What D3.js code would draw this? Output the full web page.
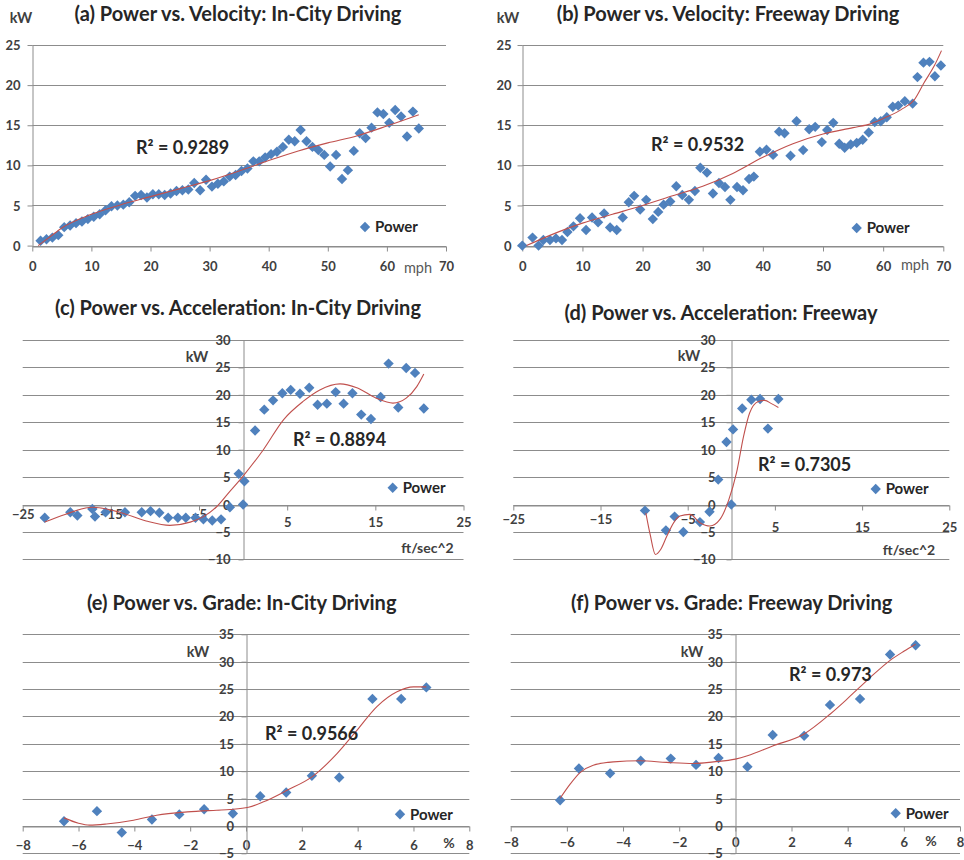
<!DOCTYPE html>
<html><head><meta charset="utf-8">
<script src="https://cdn.jsdelivr.net/npm/d3@7/dist/d3.min.js"></script>
<style>
body{margin:0;background:#fff}
svg{display:block}
text{font-family:Lato,"Open Sans",sans-serif}
</style>
</head><body>
<svg id="chart" width="964" height="860"></svg>
<script>
// ---------- DATA ----------
// (a) Power vs Velocity, In-City
const velCityMph = [1.4,2.4,3.4,4.4,5.4,6.4,7.4,8.4,9.4,10.4,11.4,12.4,13.4,14.4,15.4,16.4,17.4,18.4,19.4,20.4,21.4,22.4,23.4,24.4,25.4,26.4,27.4,28.4,29.4,30.4,31.4,32.4,33.4,34.4,35.4,36.4,37.4,38.4,39.4,40.4,41.4,42.4,43.4,44.4,45.4,46.4,47.4,48.4,49.4,50.4,51.4,52.4,53.4,54.4,55.4,56.4,57.4,58.4,59.4,60.4,61.4,62.4,63.4,64.4,65.4];
const velCityKW = [0.6,0.8,1.0,1.3,2.3,2.5,2.8,3.0,3.3,3.6,3.9,4.4,4.9,5.0,5.1,5.4,6.2,6.3,6.0,6.4,6.4,6.3,6.5,6.8,6.9,7.0,7.8,6.9,8.2,7.35,7.7,8.0,8.6,8.8,9.3,9.6,10.5,10.5,11.0,11.4,11.7,12.3,13.2,13.0,14.4,13.0,12.3,11.9,11.3,9.85,11.3,8.3,9.4,11.8,14.0,13.4,14.7,16.6,16.4,15.3,16.9,16.1,13.6,16.7,14.6];
const velCityTrendMph = [1.0,3,5,10,15,20,25,30,35,40,45,50,55,60,65.4];
const velCityTrendKW  = [0,1.1,2.2,3.9,5.1,6.1,7.1,8.1,9.3,10.6,11.8,12.8,13.7,14.9,16.3];

// (b) Power vs Velocity, Freeway
const velFwyMph = [0,1.7,2.7,3.5,4.6,5.6,6.6,7.5,8.5,9.6,10.6,11.6,12.6,13.6,14.6,15.7,16.7,17.7,18.6,19.6,20.6,21.7,22.6,23.5,24.6,25.6,26.6,27.7,28.7,29.6,30.7,31.7,32.7,33.7,34.6,35.7,36.7,37.7,38.5,39.5,40.6,41.7,42.7,43.6,44.6,45.6,46.7,47.7,48.7,49.8,50.7,51.7,52.7,53.6,54.6,55.6,56.6,57.6,58.6,59.6,60.6,61.6,62.5,63.6,64.9,65.7,66.7,67.7,68.6,69.6];
const velFwyKW = [0,1.0,0,0.7,0.7,0.9,0.7,1.7,2.4,3.4,1.95,3.5,2.9,4.0,2.25,1.95,3.5,5.4,6.2,4.5,5.7,3.3,4.2,5.1,5.5,7.4,6.3,5.7,6.8,9.7,9.1,6.5,7.8,7.3,5.7,7.3,6.9,8.3,8.6,11.7,11.95,11.3,14.2,14.0,11.2,15.5,11.9,14.5,14.8,12.9,14.4,15.3,12.7,12.2,12.6,12.8,13.2,14.1,15.4,15.5,16.0,17.3,17.45,18.0,17.7,21.0,22.8,22.9,21.1,22.45];
const velFwyTrendMph = [0.7,5,10,15,20,25,30,35,40,45,50,55,58,60.2,63,65.2,66.8,68.5,69.7];
const velFwyTrendKW  = [0,1.4,2.8,3.9,5.0,6.2,7.4,9.0,11.0,12.7,13.9,14.7,15.2,15.9,16.95,18.2,20.3,22.4,24.3];

// (c) Power vs Acceleration, In-City
const accCityFt = [-22.5,-19.6,-18.8,-17.1,-16.8,-15.6,-13.4,-11.5,-10.5,-9.5,-8.5,-7.4,-6.5,-5.4,-4.5,-3.5,-2.5,-1.5,-0.5,0.15,0,1.36,2.4,3.4,4.45,5.4,6.45,7.5,8.45,9.5,10.5,11.4,12.4,13.4,14.5,15.6,16.5,17.6,18.5,19.5,20.5];
const accCityKW = [-2.4,-1.4,-2.0,-0.8,-2.2,-1.4,-1.4,-1.4,-1.2,-1.5,-2.4,-2.4,-2.4,-2.4,-2.7,-2.9,-2.7,-0.5,5.6,4.25,0,13.5,17.3,19.0,20.3,20.9,20.2,21.3,18.2,18.4,20.5,18.4,20.3,16.4,15.6,19.6,25.7,17.7,24.9,24.0,17.5];
const accCityTrendFt = [-22.5,-20.2,-17.1,-14,-11,-8.3,-6,-4.5,-3,-1.5,0,2.3,4.6,6.8,8.7,11.0,12.9,15.1,17.0,18.5,19.7,20.5];
const accCityTrendKW = [-3.2,-1.8,-0.5,-1.4,-3.0,-3.8,-3.2,-2.2,-0.4,2.4,5.2,10.0,15.5,18.8,20.9,22.0,21.3,19.4,18.5,19.4,21.5,23.8];

// (d) Power vs Acceleration, Freeway
const accFwyFt = [-9.9,-7.5,-6.5,-5.5,-3.6,-2.5,-1.5,-0.55,0,0.2,1.25,2.3,3.3,4.2,5.4];
const accFwyKW = [-1.1,-4.7,-2.2,-5.0,-3.2,-1.3,4.55,11.4,0,13.7,17.5,19.1,19.25,13.85,19.25];
const accFwyTrendFt = [-9.8,-9.3,-8.7,-8.1,-7.4,-6.6,-5.9,-4.75,-3.6,-2.45,-1.3,-0.3,0.6,1.4,2.1,3.1,3.85,4.6,5.4];
const accFwyTrendKW = [-1.5,-5.5,-9.1,-8.2,-5.8,-3.3,-2.1,-1.8,-3.3,-3.9,-2.7,0.8,5.8,12.4,16.7,18.8,19.0,18.4,17.7];

// (e) Power vs Grade, In-City
const gradeCityPct = [-6.52,-5.34,-4.45,-3.37,-2.39,-1.5,-0.47,0.51,1.44,2.36,3.34,4.53,5.56,6.46];
const gradeCityKW  = [0.86,2.7,-1.2,1.17,2.1,3.05,2.26,5.43,6.1,9.15,8.85,23.2,23.2,25.3];
const gradeCityTrendPct = [-6.52,-6.0,-5.6,-5.0,-4.03,-3.2,-2.1,-1.05,-0.57,0.09,0.63,1.47,2.4,3.26,3.98,4.69,5.41,6.0,6.46];
const gradeCityTrendKW  = [1.47,0.5,0.15,0.35,1.04,1.95,2.56,2.87,3.0,3.4,4.4,6.5,9.1,13.2,17.5,21.8,24.5,25.4,25.4];

// (f) Power vs Grade, Freeway
const gradeFwyPct = [-6.24,-5.57,-4.46,-3.37,-2.3,-1.4,-0.6,0.43,1.33,2.45,3.37,4.44,5.51,6.42];
const gradeFwyKW  = [4.7,10.5,9.6,11.9,12.3,11.15,12.4,10.8,16.6,16.45,22.1,23.2,31.3,33.0];
const gradeFwyTrendPct = [-6.24,-5.89,-5.53,-5.06,-4.34,-3.39,-2.44,-1.5,-0.78,0,0.43,1.33,2.45,3.37,3.9,4.44,4.8,5.5,6.0,6.42];
const gradeFwyTrendKW  = [5.06,7.6,9.75,11.1,11.7,11.9,11.6,11.4,11.7,12.2,12.8,14.6,16.8,20.4,22.8,25.4,27.1,30.2,31.9,33.2];

// tick values
const velTicksX = [0,10,20,30,40,50,60,70];
const velTicksY = [0,5,10,15,20,25];
const accTicksX = [-25,-15,-5,5,15,25];
const accTicksY = [-10,-5,0,5,10,15,20,25,30];
const gradeTicksX = [-8,-6,-4,-2,0,2,4,6,8];
const gradeTicksY = [-5,0,5,10,15,20,25,30,35];

const titles = [
  "(a) Power vs. Velocity: In-City Driving",
  "(b) Power vs. Velocity: Freeway Driving",
  "(c) Power vs. Acceleration: In-City Driving",
  "(d) Power vs. Acceleration: Freeway",
  "(e) Power vs. Grade: In-City Driving",
  "(f) Power vs. Grade: Freeway Driving"
];
const r2Labels = ["R² = 0.9289","R² = 0.9532","R² = 0.8894","R² = 0.7305","R² = 0.9566","R² = 0.973"];
const seriesName = "Power";
const yUnit = "kW";
const xUnits = ["mph","mph","ft/sec^2","ft/sec^2","%","%"];

// ---------- LAYOUT ----------
const GRID = "#8c8c8c", TXT = "#404040", BLUE = "#4F81BD", RED = "#C0504D";
const panels = [
 {xs:velCityMph, ys:velCityKW, tx:velCityTrendMph, ty:velCityTrendKW, xDom:[0,70], yDom:[0,25], xTicks:velTicksX, yTicks:velTicksY,
  xL:32.3, xR:446, yB:245.6, yTop:45, mode:"left", yGap:12, xLab:(v)=>19.5,
  title:[238,14], kw:[21,18], unit:[418,268,false], r2:[136,148], leg:[365,227]},
 {xs:velFwyMph, ys:velFwyKW, tx:velFwyTrendMph, ty:velFwyTrendKW, xDom:[0,70], yDom:[0,25], xTicks:velTicksX, yTicks:velTicksY,
  xL:522.3, xR:943.3, yB:245.6, yTop:45, mode:"left", yGap:11, xLab:(v)=>19.5,
  title:[728,14], kw:[508,18], unit:[915,265,false], r2:[651,145], leg:[856.7,228]},
 {xs:accCityFt, ys:accCityKW, tx:accCityTrendFt, ty:accCityTrendKW, xDom:[-25,25], yDom:[-10,30], xTicks:accTicksX, yTicks:accTicksY,
  xL:22.7, xR:463.5, yB:559.4, yTop:340, mode:"zero", yGap:13, xLab:(v)=> v<0 ? 8.5 : 17,
  title:[238,308], kw:[197,357], unit:[427.5,548,true], r2:[293,440], leg:[392.7,487.7]},
 {xs:accFwyFt, ys:accFwyKW, tx:accFwyTrendFt, ty:accFwyTrendKW, xDom:[-25,25], yDom:[-10,30], xTicks:accTicksX, yTicks:accTicksY,
  xL:513.3, xR:949.3, yB:559.4, yTop:340, mode:"zero", yGap:16, xLab:(v)=> v<0 ? 14 : 21.5,
  title:[721,313], kw:[689,356], unit:[909,550,true], r2:[758,464.3], leg:[875.7,489]},
 {xs:gradeCityPct, ys:gradeCityKW, tx:gradeCityTrendPct, ty:gradeCityTrendKW, xDom:[-8,8], yDom:[-5,35], xTicks:gradeTicksX, yTicks:gradeTicksY,
  xL:22.7, xR:469.3, yB:853.3, yTop:634.3, mode:"zero", yGap:12.5, xLab:(v)=>18.5,
  title:[241.7,602.7], kw:[198,651.7], unit:[449,843.3,true], r2:[265,733.3], leg:[400,814.3]},
 {xs:gradeFwyPct, ys:gradeFwyKW, tx:gradeFwyTrendPct, ty:gradeFwyTrendKW, xDom:[-8,8], yDom:[-5,35], xTicks:gradeTicksX, yTicks:gradeTicksY,
  xL:510.7, xR:960, yB:853.3, yTop:634.3, mode:"zero", yGap:12.6, xLab:(v)=>16,
  title:[731.7,602.7], kw:[692,651.7], unit:[931,841,true], r2:[789,674.3], leg:[895.7,813.3]}
];

const svg = d3.select("#chart");
const diamond = d3.symbol().type(d3.symbolSquare).size(54);

panels.forEach((p, i) => {
  const x = d3.scaleLinear().domain(p.xDom).range([p.xL, p.xR]);
  const y = d3.scaleLinear().domain(p.yDom).range([p.yB, p.yTop]);
  const g = svg.append("g");
  const axX = p.mode === "left" ? p.xL : x(0);
  const axY = y(0);

  // horizontal gridlines
  g.append("g").selectAll("line").data(p.yTicks).join("line")
    .attr("x1", p.xL).attr("x2", p.xR)
    .attr("y1", d => Math.round(y(d)) + 0.5).attr("y2", d => Math.round(y(d)) + 0.5)
    .attr("stroke", GRID).attr("stroke-width", 1);

  // x axis
  const xa = g.append("g").attr("transform", `translate(0,${Math.round(axY) + 0.5})`)
    .call(d3.axisBottom(x).tickValues(p.xTicks).tickSize(5).tickSizeOuter(0).tickFormat(d3.format("d")));
  xa.select(".domain").attr("stroke", GRID);
  xa.selectAll(".tick line").attr("stroke", GRID);
  xa.selectAll(".tick text").attr("y", d => p.xLab(d)).attr("dy", "0.35em")
    .attr("fill", TXT).attr("font-size", 13).attr("font-weight", "bold").attr("font-family", "Lato");

  // y axis
  const ya = g.append("g").attr("transform", `translate(${Math.round(axX) + 0.5},0)`)
    .call(d3.axisLeft(y).tickValues(p.yTicks).tickSize(5).tickSizeOuter(0).tickPadding(p.yGap - 5).tickFormat(d3.format("d")));
  ya.select(".domain").attr("stroke", GRID);
  ya.selectAll(".tick line").attr("stroke", GRID);
  ya.selectAll(".tick text").attr("dy", "0.35em")
    .attr("fill", TXT).attr("font-size", 13).attr("font-weight", "bold").attr("font-family", "Lato");

  // points
  const pts = d3.zip(p.xs, p.ys);
  g.append("g").selectAll("path").data(pts).join("path")
    .attr("d", diamond)
    .attr("transform", d => `translate(${x(d[0])},${y(d[1])}) rotate(45)`)
    .attr("fill", BLUE);

  // trend line
  const line = d3.line().x(d => x(d[0])).y(d => y(d[1])).curve(d3.curveMonotoneX);
  g.append("path").datum(d3.zip(p.tx, p.ty)).attr("d", line)
    .attr("fill", "none").attr("stroke", RED).attr("stroke-width", 1.1);

  // title
  g.append("text").attr("x", p.title[0]).attr("y", p.title[1]).attr("dy", "0.36em")
    .attr("text-anchor", "middle").attr("font-size", 20).attr("font-weight", "bold").attr("fill", "#262626")
    .text(titles[i]);
  // kW
  g.append("text").attr("x", p.kw[0]).attr("y", p.kw[1]).attr("dy", "0.36em")
    .attr("text-anchor", "middle").attr("font-size", 14.5).attr("font-weight", "bold").attr("fill", TXT)
    .text(yUnit);
  // x unit
  g.append("text").attr("x", p.unit[0]).attr("y", p.unit[1]).attr("dy", "0.36em")
    .attr("text-anchor", "middle").attr("font-size", p.unit[2] ? 14 : 14.5)
    .attr("font-weight", p.unit[2] ? "bold" : "normal").attr("fill", p.unit[2] ? TXT : "#595959")
    .text(xUnits[i]);
  // R2
  g.append("text").attr("x", p.r2[0]).attr("y", p.r2[1]).attr("dy", "0.36em")
    .attr("font-size", 18).attr("font-weight", "bold").attr("fill", "#262626")
    .text(r2Labels[i]);
  // legend
  g.append("path").attr("d", diamond).attr("transform", `translate(${p.leg[0]},${p.leg[1]}) rotate(45)`).attr("fill", BLUE);
  g.append("text").attr("x", p.leg[0] + 10).attr("y", p.leg[1]).attr("dy", "0.36em")
    .attr("font-size", 15).attr("font-weight", "bold").attr("fill", "#262626")
    .text(seriesName);
});
</script>
</body></html>
